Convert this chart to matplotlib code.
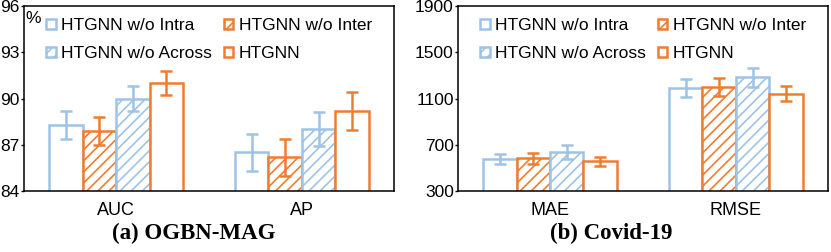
import matplotlib.pyplot as plt
import numpy as np

plt.rcParams['font.family'] = ['Liberation Sans', 'DejaVu Sans']
plt.rcParams['hatch.linewidth'] = 1.2

methods = ['HTGNN w/o Intra', 'HTGNN w/o Inter', 'HTGNN w/o Across', 'HTGNN']
colors = ['#9dc3e6', '#ed7d31', '#9dc3e6', '#ed7d31']
hatches = ['', '///', '///', '']

mag_metrics = ['AUC', 'AP']
mag_vals = [[88.3, 86.5], [87.9, 86.2], [90.0, 88.0], [91.0, 89.2]]
mag_err = [[0.9, 1.2], [0.9, 1.2], [0.8, 1.1], [0.8, 1.25]]

covid_metrics = ['MAE', 'RMSE']
covid_vals = [[578, 1190], [582, 1200], [636, 1282], [556, 1142]]
covid_err = [[45, 75], [47, 75], [60, 80], [37, 65]]

fig = plt.figure(figsize=(8.31, 2.52), dpi=100)
ax1 = fig.add_axes([0.0289, 0.242, 0.4452, 0.734])
ax2 = fig.add_axes([0.5511, 0.242, 0.4452, 0.734])

width = 0.18
x = np.arange(2)


def draw(ax, metrics, vals, errs, ylim, yticks):
    handles = []
    for i in range(4):
        pos = x + (i - 1.5) * width
        b = ax.bar(pos, vals[i], width, bottom=0, facecolor='white', edgecolor=colors[i],
                   hatch=hatches[i], linewidth=1.8, label=methods[i], zorder=2)
        handles.append(b)
        ax.errorbar(pos, vals[i], yerr=errs[i], fmt='none', ecolor=colors[i],
                    elinewidth=1.8, capsize=4, capthick=1.8, zorder=3)
    ax.set_xlim(-0.495, 1.495)
    ax.set_ylim(*ylim)
    ax.set_yticks(yticks)
    ax.set_xticks(x)
    ax.set_xticklabels(metrics, fontsize=13)
    ax.tick_params(axis='x', length=0, pad=8)
    ax.tick_params(axis='y', labelsize=12.5, length=2.5, width=1, pad=0.5)
    for s in ax.spines.values():
        s.set_linewidth(1.1)
    # row-wise legend order: Intra, Inter / Across, HTGNN
    order = [0, 2, 1, 3]
    ax.legend([handles[k] for k in order], [methods[k] for k in order],
              ncol=2, loc='upper left', bbox_to_anchor=(0.027, 1.0), frameon=False,
              fontsize=12.5, handlelength=0.55, handleheight=0.55, handletextpad=0.3,
              columnspacing=0.7, labelspacing=0.75, borderaxespad=0.3)


draw(ax1, mag_metrics, mag_vals, mag_err, (84, 96), [84, 87, 90, 93, 96])
draw(ax2, covid_metrics, covid_vals, covid_err, (300, 1900), [300, 700, 1100, 1500, 1900])
ax1.text(0.005, 0.975, '%', transform=ax1.transAxes, fontsize=12.5, va='top', ha='left')

fig.text(0.233, 0.075, '(a) OGBN-MAG', ha='center', va='center', fontsize=16.5,
         fontweight='bold', family='Liberation Serif')
fig.text(0.735, 0.075, '(b) Covid-19', ha='center', va='center', fontsize=16.5,
         fontweight='bold', family='Liberation Serif')

fig.savefig('out.png', dpi=100)
